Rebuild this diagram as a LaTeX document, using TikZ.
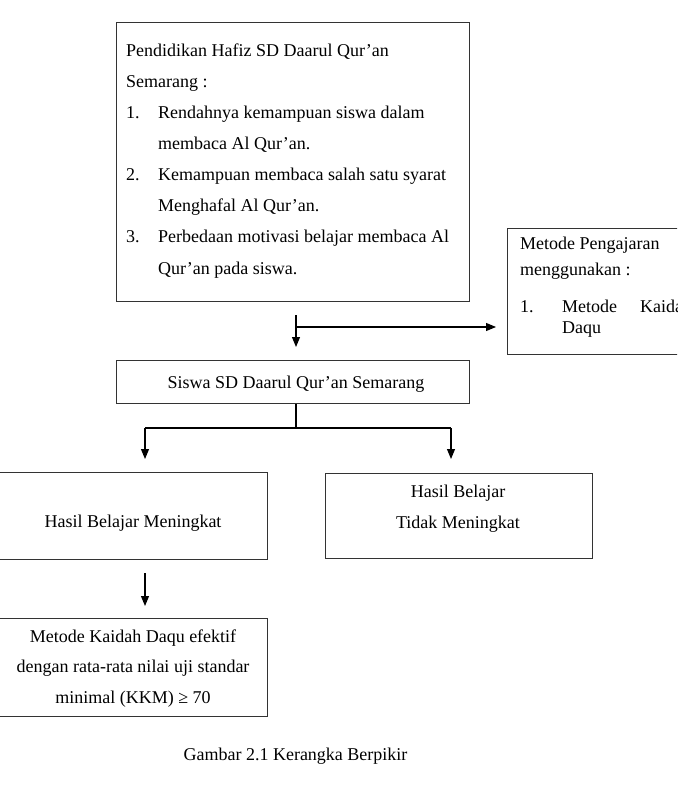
\documentclass[tikz,border=0pt]{standalone}
\usepackage{fontspec}
\setmainfont{Liberation Serif}
\usetikzlibrary{arrows.meta}
\begin{document}
\begin{tikzpicture}[x=1pt,y=-1pt,
  box/.style={draw=black!80, line width=1.1pt, inner sep=0pt, anchor=north west},
  conn/.style={line width=1.1pt, draw=black},
  arr/.style={conn, -{Triangle[width=8pt,length=10pt]}},
  txt/.style={inner sep=0pt, font=\fontsize{18}{21}\selectfont}]
\useasboundingbox (0,0) rectangle (677,791);
\clip (0,0) rectangle (677,791);
% boxes
\node[box, minimum width=353pt, minimum height=279pt] (top) at (116,22) {};
\node[box, minimum width=200pt, minimum height=126pt] (metode) at (507,228) {};
\node[box, minimum width=353pt, minimum height=43pt] (siswa) at (116,360) {};
\node[box, minimum width=272pt, minimum height=87pt] (naik) at (-5,472) {};
\node[box, minimum width=267pt, minimum height=85pt] (tidak) at (325,473) {};
\node[box, minimum width=272pt, minimum height=98pt] (efektif) at (-5,618) {};
% top box text
\node[txt, anchor=base west] (t1) at (126,57) {Pendidikan Hafiz SD Daarul Qur’an};
\node[txt, anchor=base west] (t2) at (126,88) {Semarang :};
\node[txt, anchor=base west] (n1) at (126,119) {1.};
\node[txt, anchor=base west] (t3) at (158,119) {Rendahnya kemampuan siswa dalam};
\node[txt, anchor=base west] (t4) at (158,150) {membaca Al Qur’an.};
\node[txt, anchor=base west] (n2) at (126,181) {2.};
\node[txt, anchor=base west] (t5) at (158,181) {Kemampuan membaca salah satu syarat};
\node[txt, anchor=base west] (t6) at (158,212) {Menghafal Al Qur’an.};
\node[txt, anchor=base west] (n3) at (126,243) {3.};
\node[txt, anchor=base west] (t7) at (158,243) {Perbedaan motivasi belajar membaca Al};
\node[txt, anchor=base west] (t8) at (158,274) {Qur’an pada siswa.};
% right box text (cut off at the right edge, as in the reference)
\node[txt, anchor=base west] (m1) at (520,250) {Metode Pengajaran};
\node[txt, anchor=base west] (m2) at (520,275) {menggunakan :};
\node[txt, anchor=base west] (m3) at (520,312) {1.};
\node[txt, anchor=base west] (m4) at (562,312) {Metode};
\node[txt, anchor=base west] (m5) at (640,312) {Kaidah};
\node[txt, anchor=base west] (m6) at (562,333) {Daqu};
% other texts
\node[txt, anchor=base] (s1) at (296,388) {Siswa SD Daarul Qur’an Semarang};
\node[txt, anchor=base] (h1) at (133,527) {Hasil Belajar Meningkat};
\node[txt, anchor=base] (h2) at (458,497) {Hasil Belajar};
\node[txt, anchor=base] (h3) at (458,528) {Tidak Meningkat};
\node[txt, anchor=base] (e1) at (133,642) {Metode Kaidah Daqu efektif};
\node[txt, anchor=base] (e2) at (133,672) {dengan rata-rata nilai uji standar};
\node[txt, anchor=base] (e3) at (133,703) {minimal (KKM) ≥ 70};
\node[txt, anchor=base] (cap) at (295.5,760) {Gambar 2.1 Kerangka Berpikir};
% connectors
\coordinate (a1) at (296,315);
\coordinate (a2) at (296,347);
\coordinate (b1) at (296,327);
\coordinate (b2) at (496,327);
\draw[arr] (a1) -- (a2);
\draw[arr] (b1) -- (b2);
\coordinate (c1) at (296,428);
\coordinate (cl) at (145,428);
\coordinate (cr) at (451,428);
\coordinate (dl) at (145,459);
\coordinate (dr) at (451,459);
\draw[conn] (siswa.south -| c1) -- (c1);
\draw[conn] (cl) -- (cr);
\draw[arr] (cl) -- (dl);
\draw[arr] (cr) -- (dr);
\coordinate (f1) at (145,573);
\coordinate (f2) at (145,606);
\draw[arr] (f1) -- (f2);
\end{tikzpicture}
\end{document}
